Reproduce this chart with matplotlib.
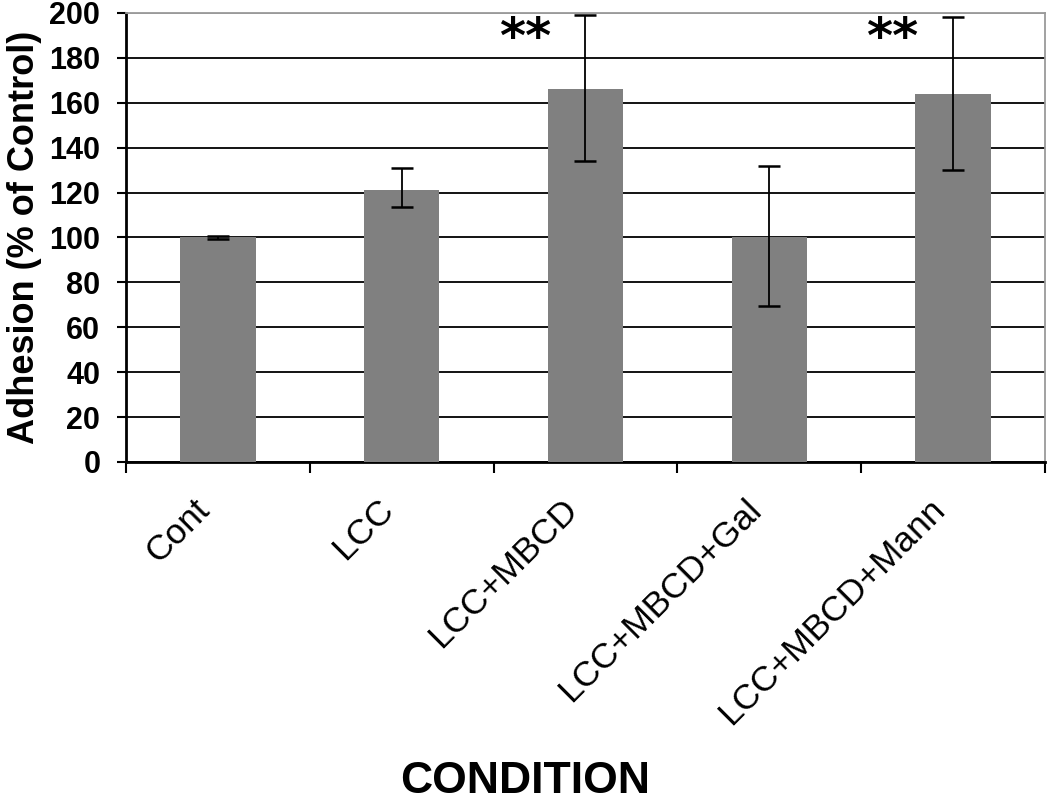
import matplotlib
matplotlib.use('Agg')
import matplotlib.pyplot as plt
from matplotlib.transforms import ScaledTranslation
import numpy as np

plt.rcParams['font.family'] = ['Liberation Sans', 'DejaVu Sans']

# Data
conditions = ['Cont', 'LCC', 'LCC+MBCD', 'LCC+MBCD+Gal', 'LCC+MBCD+Mann']
adhesion = [100, 121, 166, 100, 164]
err_low = [0.5, 7.5, 32, 30.5, 34]
err_high = [0.5, 10, 33, 32, 34]
signif = ['', '', '**', '', '**']

fig = plt.figure(figsize=(10.5, 8.02), dpi=100)
ax = fig.add_axes([0.12, 0.424, 0.8752, 0.5598])

x = np.arange(len(conditions))
ax.bar(x, adhesion, width=0.41, color='#808080', zorder=3)
ax.errorbar(x, adhesion, yerr=[err_low, err_high], fmt='none', ecolor='black',
            elinewidth=1.3, capsize=8, capthick=1.8, zorder=4)

# significance stars, set slightly left of the error bar
for xi, s in enumerate(signif):
    if s:
        ax.text(xi - 0.33, 188.5, s, ha='center', va='center', fontsize=36,
                fontweight='bold', family='DejaVu Sans', color='black', zorder=5)

ax.set_xlim(-0.5, len(conditions) - 0.5)
ax.set_ylim(0, 200)
ax.set_yticks(np.arange(0, 201, 20))
ax.tick_params(axis='y', labelsize=22, length=6.5, width=1.5, pad=12)
for lbl in ax.get_yticklabels():
    lbl.set_fontweight('bold')

ax.set_xticks(x)
ax.set_xticklabels(conditions, rotation=45, ha='right', va='top',
                   rotation_mode='anchor', fontsize=25.5)
ax.tick_params(axis='x', which='major', length=0, pad=22)
shift = ScaledTranslation(-0.25, 0, fig.dpi_scale_trans)
for lbl in ax.get_xticklabels():
    lbl.set_transform(lbl.get_transform() + shift)
ax.set_xticks(np.arange(-0.5, len(conditions)), minor=True)
ax.tick_params(axis='x', which='minor', length=8, width=1.5, direction='out')

ax.grid(axis='y', color='black', linewidth=1.3, zorder=0)
ax.get_ygridlines()[-1].set_color('#9a9a9a')
ax.set_axisbelow(True)

for side in ['left', 'bottom']:
    ax.spines[side].set_color('black')
    ax.spines[side].set_linewidth(2)
for side in ['top', 'right']:
    ax.spines[side].set_color('#9a9a9a')
    ax.spines[side].set_linewidth(1.3)

ax.set_ylabel('Adhesion (% of Control)', fontsize=26, fontweight='bold', labelpad=5)
fig.text(0.5, 0.026, 'CONDITION', ha='center', va='center', fontsize=32,
         fontweight='bold')

plt.savefig('out.png', dpi=100, facecolor='white')
